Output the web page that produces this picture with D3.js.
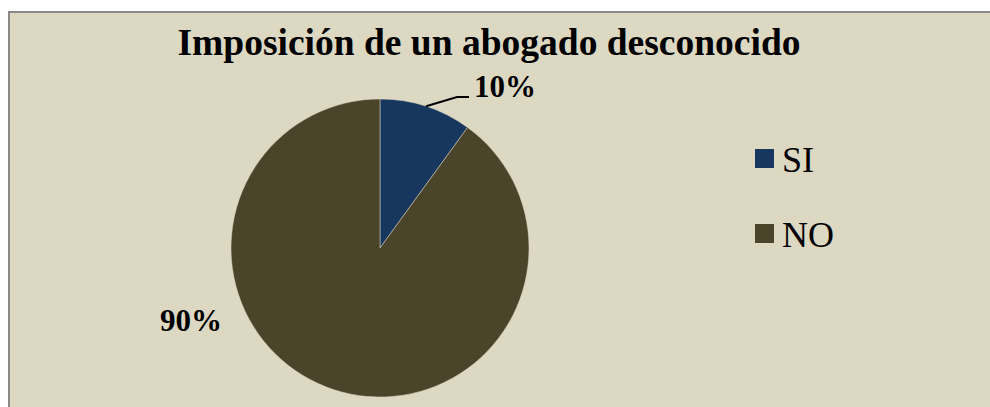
<!DOCTYPE html>
<html><head><meta charset="utf-8">
<script src="https://cdn.jsdelivr.net/npm/d3@7"></script>
<style>html,body{margin:0;padding:0;background:#fff;}svg{display:block;}
text{font-family:"Liberation Serif","Times New Roman",Times,serif;}</style>
</head><body>
<svg id="c" width="990" height="407"></svg>
<script>
const categories = ["SI", "NO"];
const values = [10, 90];
const labels = ["10%", "90%"];
const colors = ["#17375E", "#4A442A"];
const title = "Imposición de un abogado desconocido";

const svg = d3.select("#c");
svg.append("rect").attr("x", 9).attr("y", 12).attr("width", 990).attr("height", 410)
  .attr("fill", "#DDD8C2").attr("stroke", "#898989").attr("stroke-width", 2);

svg.append("text").attr("x", 489).attr("y", 55).attr("text-anchor", "middle")
  .attr("font-weight", "bold").attr("font-size", 37.5)
  .text(title);

const cx = 380, cy = 248, r = 149;
const pie = d3.pie().sort(null).value(d => d)(values);
const arc = d3.arc().innerRadius(0).outerRadius(r);
const g = svg.append("g").attr("transform", `translate(${cx},${cy})`);
g.selectAll("path").data(pie).join("path").attr("d", arc)
  .attr("fill", (d, i) => colors[i]).attr("stroke", "#DDD8C2").attr("stroke-width", 0.5);

const font = t => t.attr("font-weight", "bold").attr("font-size", 31);
const a0 = (pie[0].startAngle + pie[0].endAngle) / 2;
const p0 = [Math.sin(a0) * r, -Math.cos(a0) * r];
g.append("polyline").attr("points", [[p0[0], p0[1]], [p0[0] + 31, -151], [p0[0] + 43, -151]].map(p => p.join(",")).join(" "))
  .attr("fill", "none").attr("stroke", "#000").attr("stroke-width", 2);
font(svg.append("text").attr("x", 474).attr("y", 97).text(labels[0]));
font(svg.append("text").attr("x", 160).attr("y", 331).text(labels[1]));

const leg = svg.append("g");
categories.forEach((c, i) => {
  const y = 149 + i * 75;
  leg.append("rect").attr("x", 755).attr("y", y).attr("width", 19).attr("height", 19).attr("fill", colors[i]);
  leg.append("text").attr("x", 782).attr("y", y + 23).attr("font-size", 36).text(c);
});
</script>
</body></html>
